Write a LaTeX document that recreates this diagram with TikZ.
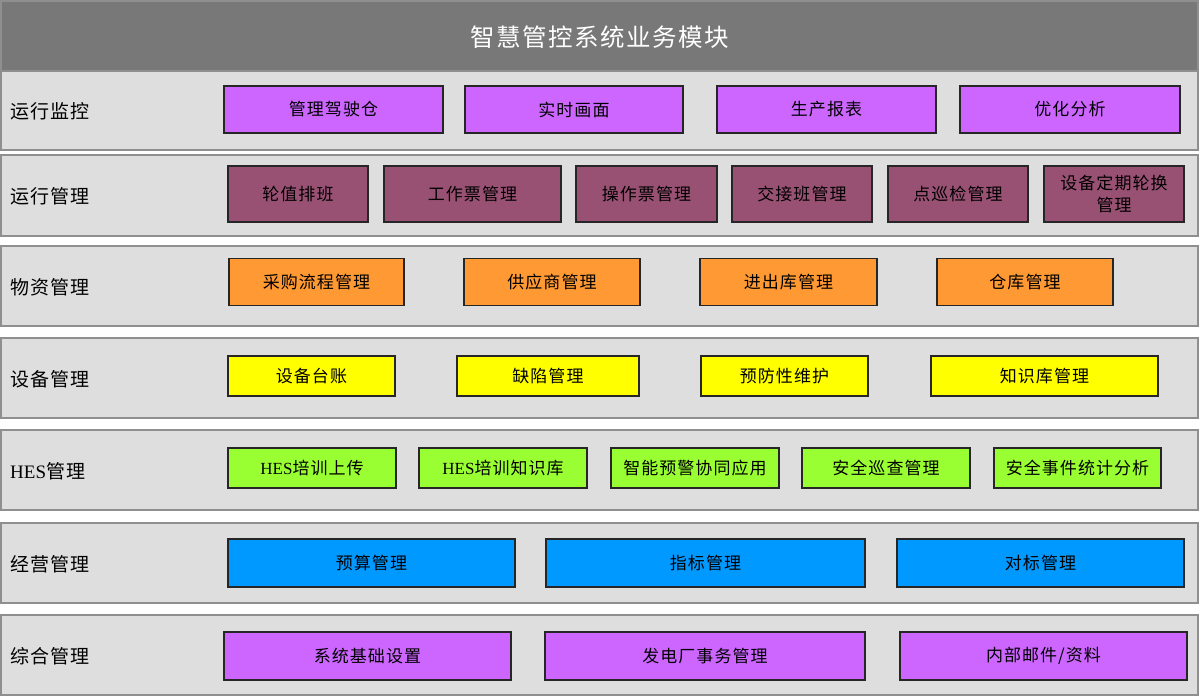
\documentclass[tikz,border=0pt]{standalone}
\usepackage{fontspec}
\setmainfont{Liberation Serif}
\newfontfamily\cjk[LetterSpace=6]{Noto Sans CJK SC}
\definecolor{bandgray}{HTML}{DEDEDE}
\definecolor{bandline}{HTML}{8F8F8F}
\definecolor{titlegray}{HTML}{787878}
\definecolor{modpurple}{HTML}{CC66FF}
\definecolor{modmaroon}{HTML}{985073}
\definecolor{modorange}{HTML}{FF9933}
\definecolor{modyellow}{HTML}{FFFF00}
\definecolor{modgreen}{HTML}{99FF33}
\definecolor{modblue}{HTML}{0099FF}
\tikzset{
  band/.style={fill=bandgray, draw=bandline, line width=1.5pt},
  rowlabel/.style={anchor=west, inner sep=0pt, font=\cjk\fontsize{19}{21}\selectfont},
  modbox/.style={draw=black!85, line width=1.3pt, inner sep=0pt, align=center,
    font=\cjk\fontsize{17}{22}\selectfont},
}
\begin{document}
\begin{tikzpicture}[x=1pt, y=-1pt]
\useasboundingbox (0,0) rectangle (1200,696);
\fill[white] (0,0) rectangle (1200,696);
% title bar
\draw[fill=titlegray, draw=bandline, line width=1.5pt] (1,1) rectangle (1198,71);
\node[text=white, font=\cjk\fontsize{24.5}{26}\selectfont] (title) at (600,37) {智慧管控系统业务模块};
% bands with row labels
\foreach \top/\bot/\lbl [count=\i] in {71/150/运行监控, 155/236/运行管理, 246/326/物资管理,
    338/418/设备管理, 430/510/{\rmfamily HES}管理, 523/603/经营管理, 615/695/综合管理} {
  \draw[band] (1,\top) rectangle (1198,\bot);
  \node[rowlabel] (lbl\i) at (10,{(\top+\bot)/2+1}) {\lbl};
}
% row 1
\foreach \a/\b/\t [count=\j] in {224/443/管理驾驶仓, 465/683/实时画面, 717/936/生产报表, 960/1180/优化分析}
  \node[modbox, fill=modpurple, minimum width={(\b-\a)*1pt}, minimum height=47pt] (r1m\j) at ({(\a+\b)/2},109.5) {\t};
% row 2
\foreach \a/\b/\t [count=\j] in {228/368/轮值排班, 384/561/工作票管理, 576/717/操作票管理,
    732/872/交接班管理, 888/1028/点巡检管理, 1044/1184/{设备定期轮换\\管理}}
  \node[modbox, fill=modmaroon, minimum width={(\b-\a)*1pt}, minimum height=56pt] (r2m\j) at ({(\a+\b)/2},194) {\t};
% row 3
\foreach \a/\b/\t [count=\j] in {229/404/采购流程管理, 464/640/供应商管理, 700/877/进出库管理, 937/1113/仓库管理}
  \node[modbox, fill=modorange, minimum width={(\b-\a)*1pt}, minimum height=47pt] (r3m\j) at ({(\a+\b)/2},282) {\t};
% row 4
\foreach \a/\b/\t [count=\j] in {228/395/设备台账, 457/639/缺陷管理, 701/868/预防性维护, 931/1158/知识库管理}
  \node[modbox, fill=modyellow, minimum width={(\b-\a)*1pt}, minimum height=40pt] (r4m\j) at ({(\a+\b)/2},376) {\t};
% row 5
\foreach \a/\b/\t [count=\j] in {228/396/{{\rmfamily HES}培训上传}, 419/587/{{\rmfamily HES}培训知识库},
    611/779/智能预警协同应用, 802/970/安全巡查管理, 994/1161/安全事件统计分析}
  \node[modbox, fill=modgreen, minimum width={(\b-\a)*1pt}, minimum height=40pt] (r5m\j) at ({(\a+\b)/2},468) {\t};
% row 6
\foreach \a/\b/\t [count=\j] in {228/515/预算管理, 546/865/指标管理, 897/1184/对标管理}
  \node[modbox, fill=modblue, minimum width={(\b-\a)*1pt}, minimum height=48pt] (r6m\j) at ({(\a+\b)/2},563) {\t};
% row 7
\foreach \a/\b/\t [count=\j] in {224/511/系统基础设置, 545/865/发电厂事务管理, 900/1187/{内部邮件/资料}}
  \node[modbox, fill=modpurple, minimum width={(\b-\a)*1pt}, minimum height=48pt] (r7m\j) at ({(\a+\b)/2},656) {\t};
\end{tikzpicture}
\end{document}
